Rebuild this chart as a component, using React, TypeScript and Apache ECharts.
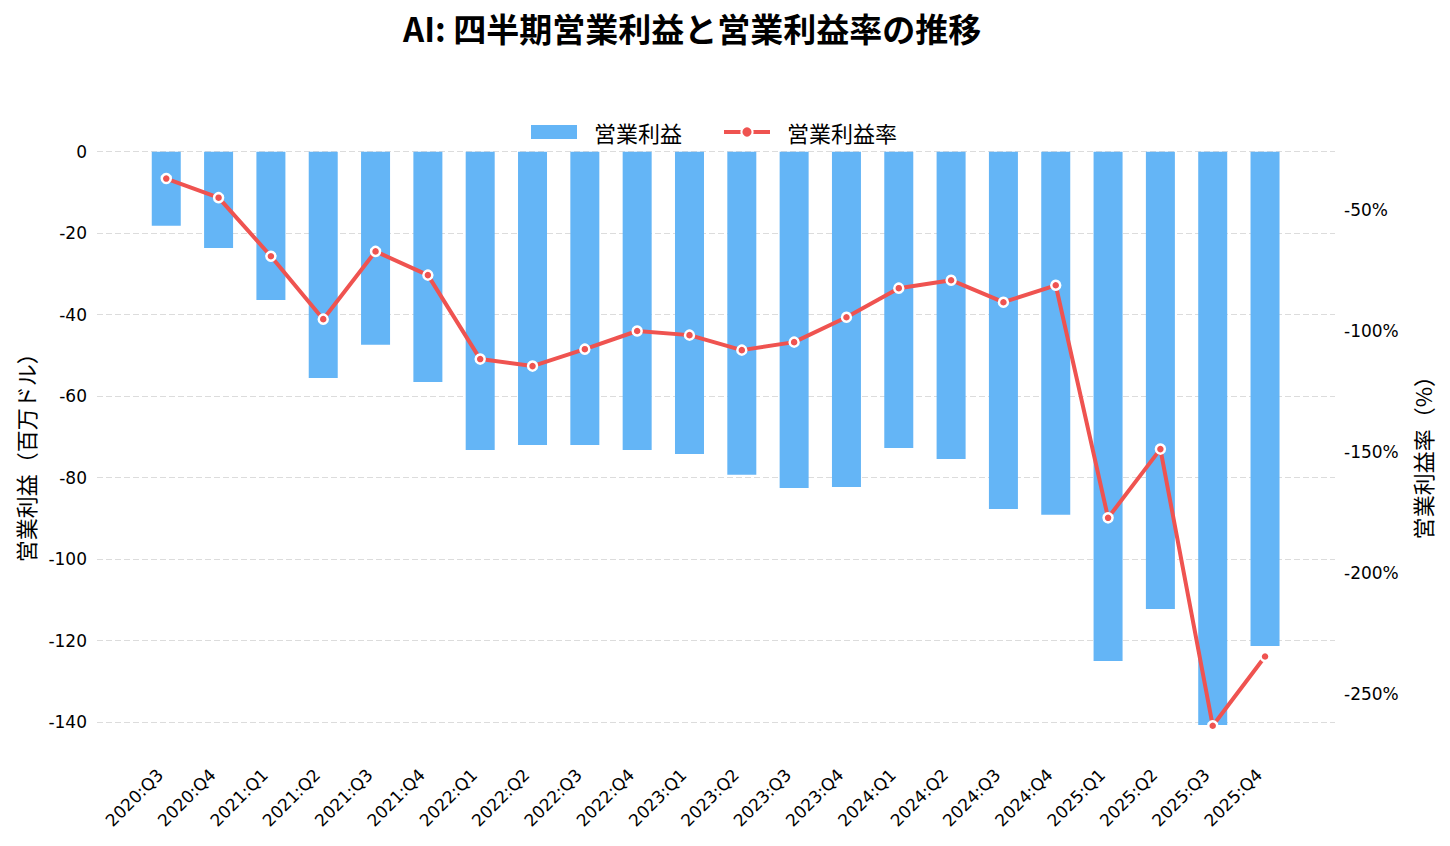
import { useEffect, useRef } from 'react';
import * as echarts from 'echarts';

const quarters = [
  '2020:Q3', '2020:Q4', '2021:Q1', '2021:Q2', '2021:Q3', '2021:Q4',
  '2022:Q1', '2022:Q2', '2022:Q3', '2022:Q4', '2023:Q1', '2023:Q2',
  '2023:Q3', '2023:Q4', '2024:Q1', '2024:Q2', '2024:Q3', '2024:Q4',
  '2025:Q1', '2025:Q2', '2025:Q3', '2025:Q4',
];

// 営業利益（百万ドル）
const operatingIncome = [
  -18.2, -23.6, -36.4, -55.5, -47.4, -56.5,
  -73.2, -72.0, -72.0, -73.2, -74.2, -79.3,
  -82.5, -82.3, -72.7, -75.4, -87.7, -89.1,
  -125.0, -112.2, -140.7, -121.3,
];

// 営業利益率（%）
const operatingMargin = [
  -36.9, -44.8, -69.0, -95.0, -67.0, -76.8,
  -111.5, -114.4, -107.4, -99.9, -101.6, -107.8,
  -104.5, -94.2, -82.2, -78.9, -88.0, -81.0,
  -177.1, -148.7, -263.0, -234.4,
];

const incomeRange = [-147.5, 0];
const marginRange = [-274.2, -25.8];

const CJK = '"Noto Sans CJK JP", "Noto Sans", sans-serif';
const LATIN = '"DejaVu Sans", sans-serif';

export default function App() {
  const chartRef = useRef<HTMLDivElement>(null);

  useEffect(() => {
    document.body.style.margin = '0';
    if (!chartRef.current) return;

    const chart = echarts.init(chartRef.current, null, { renderer: 'svg' });

    const tickLabel = { fontFamily: LATIN, fontSize: 17, color: '#000' };
    const axisName = { fontFamily: CJK, fontSize: 22, color: '#000' };
    const barColor = '#64b5f6';
    const lineColor = '#ef5350';

    chart.setOption({
      animation: false,
      title: {
        text: 'AI: 四半期営業利益と営業利益率の推移',
        left: 403,
        top: 11,
        padding: 0,
        textStyle: { fontFamily: CJK, fontSize: 33, fontWeight: 'bold', color: '#000' },
      },
      legend: {
        left: 531,
        top: 121,
        padding: 0,
        itemWidth: 46,
        itemHeight: 14,
        itemGap: 40,
        data: [
          { name: '営業利益', icon: 'rect' },
          { name: '営業利益率' },
        ],
        lineStyle: { width: 4 },
        formatter: (name: string) => `{t|${name}}`,
        textStyle: {
          fontFamily: CJK,
          fontSize: 22,
          color: '#000',
          rich: { t: { fontFamily: CJK, fontSize: 22, color: '#000', padding: [0, 0, 0, 12] } },
        },
      },
      grid: [
        { left: 97, right: 115, top: 151.7, bottom: 93.2 },
        { left: 140.1, right: 158.8, top: 151.7, bottom: 93.2 },
      ],
      xAxis: [
        { type: 'value', gridIndex: 0, min: 0, max: 1, show: false },
        {
          type: 'category',
          gridIndex: 1,
          data: quarters,
          axisLine: { show: false },
          axisTick: { show: false },
          axisLabel: { ...tickLabel, interval: 0, rotate: 45, margin: 25, verticalAlign: 'bottom' },
        },
      ],
      yAxis: [
        {
          type: 'value',
          gridIndex: 0,
          position: 'left',
          min: incomeRange[0],
          max: incomeRange[1],
          splitNumber: 7,
          name: '営業利益（百万ドル）',
          nameLocation: 'middle',
          nameRotate: 90,
          nameGap: 61,
          nameTextStyle: axisName,
          axisLine: { show: false },
          axisTick: { show: false },
          axisLabel: { ...tickLabel, margin: 10, showMinLabel: false },
          splitLine: {
            show: true,
            showMinLine: false,
            lineStyle: { color: '#dcdcdc', width: 1.2, type: [6, 3] },
          },
        },
        {
          type: 'value',
          gridIndex: 0,
          position: 'right',
          min: marginRange[0],
          max: marginRange[1],
          splitNumber: 5,
          name: '営業利益率（%）',
          nameLocation: 'middle',
          nameRotate: 90,
          nameGap: 76,
          nameTextStyle: axisName,
          axisLine: { show: false },
          axisTick: { show: false },
          axisLabel: {
            ...tickLabel,
            margin: 9,
            showMinLabel: false,
            showMaxLabel: false,
            formatter: (v: number) => `${v}%`,
          },
          splitLine: { show: false },
        },
        { type: 'value', gridIndex: 1, min: incomeRange[0], max: incomeRange[1], show: false },
        { type: 'value', gridIndex: 1, min: marginRange[0], max: marginRange[1], show: false },
      ],
      series: [
        {
          type: 'bar',
          name: '営業利益',
          xAxisIndex: 1,
          yAxisIndex: 2,
          data: operatingIncome,
          barWidth: 29,
          itemStyle: { color: barColor },
        },
        {
          type: 'line',
          name: '営業利益率',
          xAxisIndex: 1,
          yAxisIndex: 3,
          data: operatingMargin,
          symbol: 'circle',
          symbolSize: 9,
          z: 3,
          lineStyle: { color: lineColor, width: 4 },
          itemStyle: { color: lineColor, borderColor: '#fff', borderWidth: 2.5 },
        },
      ],
    });

    return () => chart.dispose();
  }, []);

  return <div ref={chartRef} style={{ width: 1450, height: 846 }} />;
}
